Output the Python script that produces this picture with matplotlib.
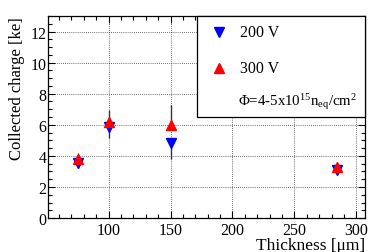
import matplotlib
matplotlib.use("Agg")
import matplotlib.pyplot as plt
from matplotlib.ticker import MultipleLocator
from matplotlib.patches import Rectangle

thickness = [75, 100, 150, 284]
charge_200 = [3.55, 5.88, 4.82, 3.12]
err_200_lo = [0.3, 0.73, 1.05, 0.15]
err_200_hi = [0.3, 0.3, 0.3, 0.15]
charge_300 = [3.82, 6.2, 6.0, 3.28]
err_300_lo = [0.3, 0.3, 0.3, 0.15]
err_300_hi = [0.38, 0.77, 1.3, 0.15]
legend_labels = ['200 V', '300 V']
fluence_text = r'$\Phi$=4-5x10$^{15}$n$_{\mathrm{eq}}$/cm$^{2}$'

plt.rcParams['font.family'] = ['Liberation Serif', 'DejaVu Serif']
plt.rcParams['mathtext.fontset'] = 'custom'
plt.rcParams['mathtext.rm'] = 'Liberation Serif'
plt.rcParams['mathtext.it'] = 'Liberation Serif:italic'

fig = plt.figure(figsize=(3.74, 2.53), dpi=100)
ax = fig.add_axes([0.128, 0.134, 0.848, 0.799])

ax.errorbar(thickness, charge_200, yerr=[err_200_lo, err_200_hi], fmt='none',
            ecolor='#333333', elinewidth=1.0, capsize=0, zorder=3)
ax.errorbar(thickness, charge_300, yerr=[err_300_lo, err_300_hi], fmt='none',
            ecolor='#333333', elinewidth=1.0, capsize=0, zorder=3)
ax.plot(thickness, charge_200, linestyle='none', marker='v', markersize=6.5,
        color='blue', zorder=4)
ax.plot(thickness, charge_300, linestyle='none', marker='^', markersize=6.5,
        color='red', zorder=5)

ax.set_xlim(51, 307)
ax.set_ylim(0, 13)
ax.xaxis.set_major_locator(MultipleLocator(50))
ax.xaxis.set_minor_locator(MultipleLocator(10))
ax.yaxis.set_major_locator(MultipleLocator(2))
ax.yaxis.set_minor_locator(MultipleLocator(0.5))
ax.tick_params(which='both', direction='in', top=True, right=True,
               labelsize=11.5, width=0.8)
ax.tick_params(axis='y', pad=1)
ax.tick_params(axis='x', pad=3)
ax.tick_params(which='major', length=5)
ax.tick_params(which='minor', length=3)
for s in ax.spines.values():
    s.set_linewidth(0.9)
ax.grid(True, which='major', linestyle=(0, (1, 1.5)), color='black',
        linewidth=0.6, alpha=0.75)
ax.set_axisbelow(True)

ax.set_xlabel('Thickness [μm]', fontsize=12.5, loc='right', labelpad=-1)
ax.set_ylabel('Collected charge [ke]', fontsize=12, loc='top', labelpad=4)

# legend box (drawn manually, ROOT-style)
ax.add_patch(Rectangle((0.47, 0.50), 0.53, 0.50, transform=ax.transAxes,
                       facecolor='white', edgecolor='black', linewidth=0.9,
                       zorder=6, clip_on=False))
ax.plot([0.539], [0.921], transform=ax.transAxes, marker='v', markersize=7,
        color='blue', linestyle='none', zorder=7, clip_on=False)
ax.plot([0.539], [0.743], transform=ax.transAxes, marker='^', markersize=7,
        color='red', linestyle='none', zorder=7, clip_on=False)
ax.text(0.606, 0.921, legend_labels[0], transform=ax.transAxes, fontsize=11.5,
        va='center', ha='left', zorder=8)
ax.text(0.606, 0.743, legend_labels[1], transform=ax.transAxes, fontsize=11.5,
        va='center', ha='left', zorder=8)
ax.text(0.599, 0.579, fluence_text, transform=ax.transAxes, fontsize=10.7,
        va='center', ha='left', zorder=8)

fig.savefig('out.png', dpi=100)
